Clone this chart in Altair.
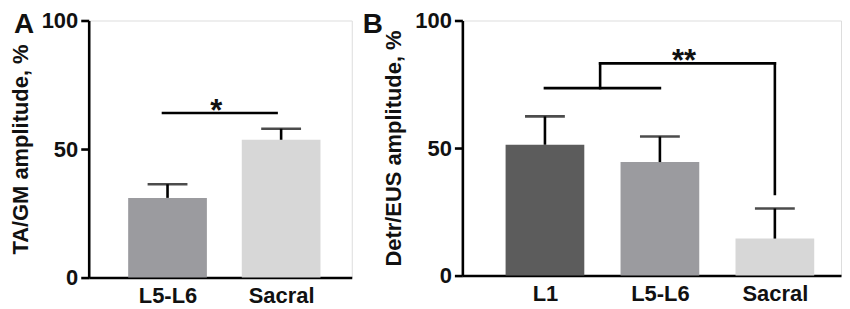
import json
import altair as alt
import pandas as pd

# ---------------- data ----------------
a_cats = ["L5-L6", "Sacral"]
a_vals = [31.0, 53.6]
a_errs = [5.3, 4.3]
a_colors = ["#9b9b9f", "#d7d7d7"]

b_cats = ["L1", "L5-L6", "Sacral"]
b_vals = [51.3, 44.5, 14.5]
b_errs = [11.1, 10.0, 11.8]
b_colors = ["#5c5c5c", "#9b9b9f", "#d7d7d7"]

# significance brackets (x in category index units, y in %)
a_seg_x1 = [-0.04]
a_seg_x2 = [0.96]
a_seg_y1 = [64.0]
a_seg_y2 = [64.0]
a_star = ["*"]
a_star_x = [0.43]
a_star_y = [64.0]

b_seg_x1 = [0.0, 0.48, 0.48, 2.0]
b_seg_x2 = [1.0, 0.48, 2.0, 2.0]
b_seg_y1 = [73.5, 73.5, 83.2, 83.2]
b_seg_y2 = [73.5, 83.2, 83.2, 32.0]
b_star = ["**"]
b_star_x = [1.21]
b_star_y = [83.2]

y_ticks = [0, 50, 100]

FONT = "Liberation Sans"
LW = 2.6


def panel(cats, vals, errs, colors, xdom, width, height, ytitle, letter,
          letter_dx, sx1, sx2, sy1, sy2, stars, star_x, star_y):
    n = len(cats)
    df = pd.DataFrame({
        "pos": list(range(n)),
        "cat": cats,
        "val": vals,
        "top": [v + e for v, e in zip(vals, errs)],
        "color": colors,
    })
    x_axis = alt.Axis(values=list(range(n)),
                      labelExpr=json.dumps(cats) + "[datum.value]",
                      ticks=False, tickSize=0, grid=False, title=None,
                      labelFontSize=22, labelFontWeight="bold", labelFont=FONT,
                      labelPadding=8, labelColor="#111111",
                      domainColor="black", domainWidth=LW)
    y_axis = alt.Axis(values=y_ticks, grid=False, title=ytitle,
                      tickSize=8, tickWidth=LW, tickColor="black",
                      labelFontSize=22, labelFontWeight="bold", labelFont=FONT,
                      labelPadding=3, labelColor="#111111",
                      titleFontSize=22, titleFontWeight="bold", titleFont=FONT,
                      titleColor="#111111", titlePadding=9,
                      domainColor="black", domainWidth=LW)
    xs = alt.Scale(domain=xdom, nice=False, zero=False)
    ys = alt.Scale(domain=[0, 100], nice=False)

    base = alt.Chart(df)
    bars = base.mark_bar(size=79).encode(
        x=alt.X("pos:Q", scale=xs, axis=x_axis),
        y=alt.Y("val:Q", scale=ys, axis=y_axis),
        color=alt.Color("color:N", scale=None),
    )
    err = base.mark_rule(color="black", strokeWidth=LW).encode(
        x=alt.X("pos:Q", scale=xs, axis=x_axis),
        y=alt.Y("val:Q", scale=ys, axis=y_axis),
        y2="top:Q",
    )
    cap = base.mark_tick(orient="horizontal", size=40, thickness=LW,
                         color="black").encode(
        x=alt.X("pos:Q", scale=xs, axis=x_axis),
        y=alt.Y("top:Q", scale=ys, axis=y_axis),
    )
    seg_df = pd.DataFrame({"x1": sx1, "x2": sx2, "y1": sy1, "y2": sy2})
    segs = alt.Chart(seg_df).mark_rule(color="black", strokeWidth=LW,
                                       strokeCap="square").encode(
        x=alt.X("x1:Q", scale=xs, axis=x_axis),
        x2="x2:Q",
        y=alt.Y("y1:Q", scale=ys, axis=y_axis),
        y2="y2:Q",
    )
    star_df = pd.DataFrame({"t": stars, "x": star_x, "y": star_y})
    star = alt.Chart(star_df).mark_text(fontSize=31, fontWeight="bold",
                                        font=FONT, baseline="alphabetic",
                                        dy=8, color="#111111").encode(
        x=alt.X("x:Q", scale=xs, axis=x_axis),
        y=alt.Y("y:Q", scale=ys, axis=y_axis),
        text="t:N",
    )
    let_df = pd.DataFrame({"t": [letter]})
    let = alt.Chart(let_df).mark_text(fontSize=28, fontWeight="bold",
                                      font=FONT, align="left",
                                      baseline="alphabetic",
                                      color="#111111").encode(
        x=alt.value(letter_dx), y=alt.value(13), text="t:N")
    return alt.layer(bars, err, cap, segs, star, let).properties(
        width=width, height=height)


pa = panel(a_cats, a_vals, a_errs, a_colors, [-0.65, 1.578], 264, 258,
           "TA/GM amplitude, %", "A", -75,
           a_seg_x1, a_seg_x2, a_seg_y1, a_seg_y2, a_star, a_star_x, a_star_y)
pb = panel(b_cats, b_vals, b_errs, b_colors, [-0.675, 2.532], 380, 256,
           "Detr/EUS amplitude, %", "B", -100,
           b_seg_x1, b_seg_x2, b_seg_y1, b_seg_y2, b_star, b_star_x, b_star_y)

chart = alt.hconcat(pa, pb, spacing=9).properties(
    padding={"left": 0, "top": 0, "right": 0, "bottom": 0}
).configure_view(stroke=None).configure(background="white")

chart.save("out.html", embed_options={"renderer": "svg", "actions": False})
